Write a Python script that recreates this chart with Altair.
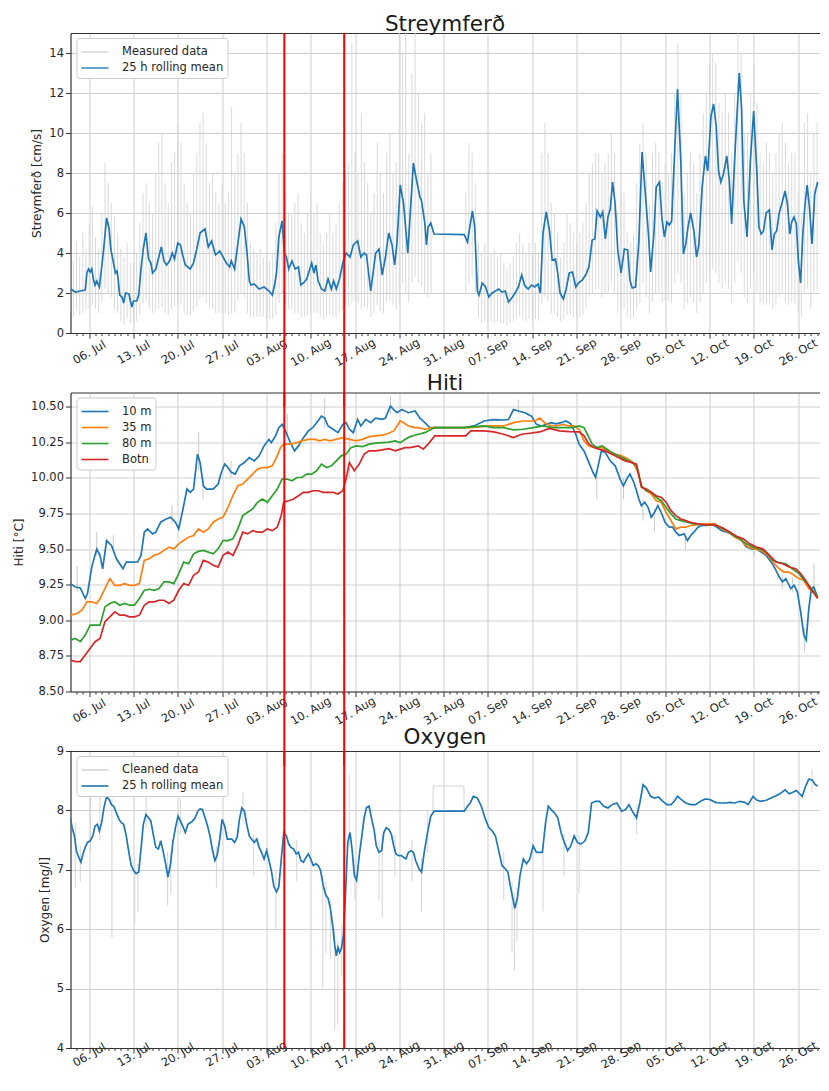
import altair as alt
import pandas as pd

BASE = pd.Timestamp("2020-07-03 00:00:00")


def when(days):
    return [BASE + pd.Timedelta(days=float(d)) for d in days]


# ---------------- Streymferð (current speed, cm/s) ----------------
SPEED_T = [0.05, 0.82, 1.60, 2.38, 2.64, 2.90, 3.16, 3.41, 3.67, 3.93,
           4.19, 4.61, 5.23, 5.75, 6.16, 6.42, 6.78, 7.15, 7.41, 7.61,
           7.82, 8.18, 8.44, 8.75, 9.27, 9.74, 10.00, 10.52, 10.83, 11.19,
           11.55, 11.97, 12.38, 12.75, 13.01, 13.52, 14.40, 14.82, 15.23, 15.70,
           16.12, 16.48, 17.00, 17.41, 17.77, 18.19, 18.97, 19.49, 20.00, 20.52,
           20.88, 21.30, 21.82, 22.34, 22.96, 23.63, 24.67, 25.19, 25.45, 25.97,
           26.38, 27.00, 27.52, 27.94, 28.30, 28.56, 29.08, 29.85, 30.63, 31.41,
           31.93, 32.29, 32.60, 32.96, 33.48, 33.85, 34.16, 34.52, 35.04, 35.56,
           36.07, 36.44, 36.85, 37.37, 38.15, 38.51, 38.82, 39.18, 39.70, 40.22,
           40.74, 41.26, 41.62, 42.04, 42.55, 43.07, 43.59, 44.21, 44.73, 45.41,
           45.92, 46.44, 46.81, 47.48, 48.26, 48.78, 49.29, 49.81, 50.33, 50.85,
           51.26, 51.63, 52.14, 52.66, 53.34, 54.22, 54.74, 55.26, 55.51, 56.03,
           56.29, 56.55, 56.97, 57.48, 62.25, 62.77, 63.03, 63.55, 63.91, 64.33,
           64.59, 65.10, 65.62, 66.14, 66.66, 67.18, 67.70, 68.21, 68.73, 69.25,
           69.77, 70.29, 70.81, 71.33, 71.84, 72.36, 72.88, 73.40, 73.92, 74.28,
           74.70, 75.21, 75.73, 76.15, 76.67, 77.03, 77.39, 77.91, 78.32, 78.84,
           79.36, 79.88, 80.29, 80.92, 81.43, 81.95, 82.47, 82.89, 83.25, 83.77,
           84.13, 84.55, 84.96, 85.32, 85.69, 86.10, 86.51, 87.03, 87.55, 88.07,
           88.43, 88.80, 89.31, 89.83, 90.35, 90.87, 91.39, 91.70, 92.22, 92.58,
           93.10, 93.46, 93.88, 94.29, 94.65, 95.02, 95.43, 95.95, 96.47, 96.88,
           97.25, 97.61, 98.02, 98.54, 98.96, 99.32, 99.84, 100.36, 100.72, 101.24,
           101.65, 102.07, 102.43, 102.79, 103.21, 103.73, 104.14, 104.50, 105.02, 105.70,
           106.06, 106.42, 106.94, 107.46, 107.98, 108.50, 108.81, 109.17, 109.53, 109.95,
           110.46, 110.88, 111.24, 111.61, 112.02, 112.54, 112.95, 113.32, 113.68, 113.99,
           114.35, 114.72, 115.03, 115.39, 115.75, 116.06, 116.43, 116.79, 117.20, 117.62,
           118.09]
SPEED_MEAN = [2.2, 2.05, 2.1, 2.15, 3.0, 3.2, 3.05, 3.2, 2.7, 2.4,
              2.6, 2.3, 4.0, 5.75, 5.2, 4.2, 3.6, 3.0, 3.1, 2.6,
              1.9, 1.8, 1.5, 2.0, 1.95, 1.3, 1.6, 1.6, 1.9, 3.2,
              4.2, 5.0, 3.7, 3.5, 3.0, 3.2, 4.3, 3.6, 3.4, 3.6,
              4.0, 3.7, 4.5, 4.4, 3.9, 3.4, 3.2, 3.5, 4.2, 5.0,
              5.1, 5.2, 4.3, 4.6, 3.9, 4.1, 3.5, 3.3, 3.6, 3.2,
              4.2, 5.7, 5.3, 4.0, 2.6, 2.4, 2.45, 2.2, 2.3, 2.1,
              1.9, 2.4, 3.0, 4.8, 5.6, 4.0, 3.8, 3.2, 3.6, 3.2,
              3.3, 2.4, 2.5, 2.7, 3.5, 3.0, 3.4, 2.6, 2.2, 2.1,
              2.7, 2.2, 2.6, 2.2, 2.7, 3.5, 4.0, 3.8, 4.4, 4.6,
              3.8, 4.0, 3.9, 2.1, 4.0, 4.2, 2.9, 3.8, 5.0, 4.4,
              3.4, 4.5, 7.4, 6.5, 4.0, 8.5, 7.6, 6.8, 6.6, 5.5,
              4.4, 5.3, 5.5, 4.95, 4.92, 4.55, 5.1, 6.1, 5.3, 2.1,
              1.9, 2.5, 2.3, 1.8, 2.0, 2.1, 2.2, 2.05, 2.1, 1.55,
              1.75, 2.0, 2.3, 2.9, 2.35, 2.2, 2.4, 2.3, 2.45, 2.0,
              5.0, 6.05, 5.1, 3.65, 3.7, 3.0, 2.0, 1.7, 2.15, 3.0,
              3.05, 2.3, 2.5, 2.65, 2.9, 3.3, 4.65, 4.7, 6.1, 5.8,
              6.05, 4.7, 5.8, 6.2, 7.55, 6.45, 4.15, 3.0, 4.2, 4.15,
              2.65, 2.25, 2.3, 4.5, 9.05, 6.95, 4.8, 3.05, 4.95, 7.3,
              7.55, 5.8, 4.8, 5.55, 5.4, 5.6, 8.6, 12.2, 8.6, 3.95,
              4.45, 5.3, 6.0, 5.1, 3.8, 4.4, 7.3, 8.85, 8.1, 10.85,
              11.45, 10.3, 8.1, 7.55, 7.95, 8.85, 7.6, 5.45, 8.95, 13.0,
              11.3, 6.6, 4.8, 8.6, 11.1, 7.95, 5.3, 4.95, 5.1, 6.0,
              6.15, 4.15, 4.95, 5.1, 6.0, 6.6, 7.1, 6.45, 4.95, 5.55,
              5.8, 5.45, 3.65, 2.5, 4.95, 6.3, 7.4, 6.3, 4.45, 6.95,
              7.55]

# measured data: range of the raw record in each half-day (nan = no data)
NAN = float("nan")
MEASURED_STEP_DAYS = 0.5
MEASURED_HIGH = [4.0, 3.6, 4.6, 3.8, 5.0, 4.2, 5.5, 6.3, 4.8, 4.2,
                 6.0, 8.5, 7.5, 6.5, 5.8, 5.0, 4.2, 3.8, 4.5, 3.5,
                 3.5, 4.0, 5.5, 7.0, 7.5, 6.5, 6.0, 8.0, 9.5, 10.0,
                 7.5, 6.5, 8.5, 9.0, 10.5, 9.5, 7.5, 6.5, 6.0, 8.0,
                 9.0, 10.5, 11.0, 9.5, 7.5, 8.0, 7.0, 6.5, 7.5, 6.5,
                 7.0, 11.3, 8.0, 9.0, 10.5, 9.0, 6.5, 4.5, 4.2, 4.0,
                 4.2, 3.8, 4.0, 3.6, 4.0, 5.5, 8.0, 9.0, 7.0, 6.0,
                 6.0, 6.5, 7.0, 5.5, 5.0, 6.0, 7.0, 6.0, 6.5, 5.0,
                 4.5, 5.0, 6.0, 5.0, 5.5, 6.5, 7.5, 8.0, 8.5, 14.5,
                 9.0, 8.0, 11.0, 8.5, 7.5, 6.0, 7.0, 9.5, 8.0, 7.0,
                 9.0, 10.0, 8.0, 8.5, 15.0, 14.0, 15.0, 9.0, 13.0, 15.0,
                 12.0, 10.5, 11.0, 8.0, 9.0, NAN, NAN, NAN, NAN, NAN,
                 NAN, NAN, NAN, NAN, NAN, 7.0, 9.5, 9.0, 7.5, 4.5,
                 4.0, 4.5, 3.8, 4.0, 4.2, 3.8, 4.0, 3.5, 3.2, 3.5,
                 3.8, 4.5, 5.0, 4.5, 4.0, 4.5, 4.0, 4.5, 4.0, 9.0,
                 10.5, 9.0, 6.5, 6.0, 5.0, 3.8, 4.5, 6.0, 5.5, 5.0,
                 4.5, 5.0, 5.5, 6.5, 8.0, 8.5, 9.0, 9.0, 8.0, 8.5,
                 9.0, 10.0, 9.0, 6.0, 7.0, 7.0, 5.0, 4.5, 5.0, 7.5,
                 9.5, 10.5, 9.0, 6.5, 9.0, 9.5, 9.0, 7.5, 8.5, 8.0,
                 9.0, 12.0, 14.5, 12.0, 7.0, 8.0, 9.0, 8.5, 7.0, 9.0,
                 11.0, 12.0, 13.5, 14.0, 13.5, 11.5, 11.0, 12.0, 11.0, 9.0,
                 12.0, 15.0, 14.0, 10.0, 10.0, 12.0, 13.5, 11.5, 9.0, 8.5,
                 9.5, 9.0, 8.0, 9.0, 10.0, 10.5, 9.5, 8.5, 9.0, 9.0,
                 7.0, 6.0, 10.5, 11.0, 8.0, 10.0, 10.5]
MEASURED_LOW = [1.0, 0.8, 1.1, 0.9, 1.0, 1.1, 1.2, 1.4, 1.2, 1.0,
                1.5, 2.2, 2.0, 1.8, 1.2, 1.0, 0.6, 0.4, 0.7, 0.5,
                0.5, 0.6, 0.9, 1.5, 1.6, 1.2, 1.0, 1.1, 1.2, 1.3,
                1.0, 0.9, 1.2, 1.3, 1.5, 1.4, 1.0, 0.9, 0.9, 1.1,
                1.3, 1.7, 1.8, 1.5, 1.2, 1.2, 1.0, 1.0, 1.0, 1.0,
                0.9, 1.0, 1.0, 1.6, 2.0, 1.8, 1.0, 0.8, 0.8, 0.8,
                0.8, 0.8, 0.7, 0.7, 0.7, 0.9, 1.5, 2.0, 1.4, 1.2,
                1.2, 1.0, 1.0, 0.8, 0.8, 0.9, 1.0, 1.0, 1.0, 0.8,
                0.7, 0.8, 0.9, 0.8, 0.8, 1.0, 1.2, 1.4, 1.3, 1.5,
                1.6, 1.5, 1.2, 1.3, 1.2, 0.8, 1.0, 1.4, 1.1, 1.0,
                1.5, 1.6, 1.4, 1.2, 1.5, 2.5, 2.0, 1.5, 2.5, 2.8,
                2.5, 2.3, 2.0, 1.8, 2.0, NAN, NAN, NAN, NAN, NAN,
                NAN, NAN, NAN, NAN, NAN, 2.0, 2.5, 2.8, 2.0, 0.8,
                0.5, 0.6, 0.5, 0.6, 0.5, 0.6, 0.5, 0.5, 0.4, 0.5,
                0.6, 0.7, 0.8, 0.7, 0.6, 0.7, 0.6, 0.7, 0.6, 1.5,
                1.8, 1.6, 1.0, 1.0, 0.8, 0.6, 0.7, 0.9, 0.9, 0.8,
                0.8, 0.8, 0.9, 1.2, 1.8, 2.0, 2.2, 2.2, 1.8, 2.0,
                2.0, 2.5, 2.0, 1.0, 1.2, 1.2, 0.8, 0.7, 0.8, 1.2,
                1.5, 2.5, 1.8, 1.0, 1.6, 2.0, 2.0, 1.5, 1.6, 1.6,
                1.5, 2.5, 3.0, 2.5, 1.2, 1.5, 1.8, 1.5, 1.0, 1.5,
                2.0, 2.5, 3.0, 3.2, 3.0, 2.5, 2.2, 2.5, 2.2, 1.5,
                2.5, 3.5, 3.0, 1.8, 1.5, 2.2, 3.0, 2.0, 1.5, 1.4,
                1.5, 1.5, 1.2, 1.4, 1.8, 2.0, 1.6, 1.4, 1.5, 1.5,
                1.0, 0.8, 2.0, 2.2, 1.2, 2.0, 2.2]

# ---------------- Hiti (temperature, °C) ----------------
T10_T = [0.05, 0.82, 1.60, 2.38, 2.74, 3.41, 4.19, 4.71, 5.13, 5.75,
         6.53, 7.30, 8.34, 8.86, 9.64, 10.67, 11.19, 11.71, 12.23, 13.01,
         13.52, 14.30, 15.08, 15.86, 16.63, 17.15, 17.93, 18.45, 18.97, 19.49,
         20.11, 20.52, 21.04, 21.56, 22.60, 23.37, 23.89, 24.41, 24.93, 25.45,
         26.07, 26.74, 27.52, 28.30, 29.08, 29.85, 30.63, 31.41, 31.77, 32.45,
         32.96, 33.48, 34.00, 34.78, 35.45, 36.07, 36.85, 37.63, 38.30, 38.93,
         39.70, 40.22, 40.74, 41.52, 42.30, 43.07, 43.59, 44.11, 44.73, 45.41,
         45.92, 46.70, 47.48, 48.26, 49.29, 49.81, 50.59, 51.11, 51.63, 52.40,
         53.44, 54.48,
         55.26, 56.03, 56.81, 57.59, 62.25, 63.81, 65.36, 66.92, 68.47, 69.25,
         70.03, 70.81, 71.84, 72.88, 73.66, 74.44, 75.21, 75.99, 76.77, 77.55,
         78.32, 79.10, 79.88, 80.40, 81.18, 81.95, 82.58, 82.99, 83.41, 83.92,
         84.55, 85.32, 86.10, 86.88, 87.40, 87.92, 88.43, 88.95, 89.47, 89.83,
         90.25, 90.77, 91.29, 91.80, 92.32, 92.84, 93.36, 93.98, 94.66, 95.17,
         95.69, 96.21, 96.99, 97.51, 98.03, 98.54, 99.17, 99.84, 100.62, 101.40,
         102.17, 102.95, 103.73, 104.51, 105.28, 106.06, 106.84, 107.62, 108.40, 109.17,
         109.95, 110.73, 111.25, 112.02, 112.54, 113.06, 113.84, 114.36, 114.88, 115.40,
         115.91, 116.28, 116.69, 117.11, 117.47, 118.09]
T10_V = [9.258, 9.234, 9.227, 9.153, 9.19, 9.374, 9.50, 9.456, 9.362, 9.56,
         9.526, 9.432, 9.362, 9.409, 9.409, 9.41, 9.456, 9.619, 9.642, 9.607,
         9.62, 9.689, 9.71, 9.724, 9.689, 9.642, 9.805, 9.922, 9.899, 9.922,
         10.167, 10.108, 9.945, 9.922, 9.922, 9.957, 10.04, 10.097, 10.073, 10.04,
         10.027, 10.085, 10.108, 10.143, 10.12, 10.155, 10.225, 10.271, 10.248, 10.295,
         10.353, 10.376, 10.33, 10.248, 10.19, 10.225, 10.283, 10.33, 10.353, 10.388,
         10.434, 10.42, 10.365, 10.342, 10.318, 10.376, 10.388, 10.342, 10.318, 10.411,
         10.365, 10.411, 10.388, 10.42, 10.411, 10.42, 10.505, 10.48, 10.458, 10.48,
         10.458, 10.47,
         10.42, 10.388, 10.353, 10.353, 10.353, 10.365, 10.4, 10.41, 10.407, 10.41,
         10.48, 10.47, 10.458, 10.434, 10.376, 10.365, 10.376, 10.388, 10.38, 10.388,
         10.4, 10.38, 10.307, 10.237, 10.19, 10.108, 10.04, 10.004, 10.085, 10.19,
         10.178, 10.12, 10.085, 9.992, 9.945, 9.992, 10.027, 9.98, 9.91, 9.852,
         9.805, 9.829, 9.794, 9.724, 9.759, 9.805, 9.759, 9.689, 9.654, 9.654,
         9.619, 9.596, 9.607, 9.56, 9.596, 9.619, 9.654, 9.666, 9.666, 9.677,
         9.654, 9.63, 9.619, 9.607, 9.584, 9.56, 9.514, 9.502, 9.502, 9.479,
         9.456, 9.409, 9.374, 9.304, 9.27, 9.293, 9.223, 9.246, 9.2, 9.06,
         8.896, 8.861, 9.083, 9.223, 9.234, 9.164]

T35_T = [0.05, 1.08, 1.86, 2.64, 3.41, 4.19, 4.71, 5.49, 6.27, 7.04,
         7.82, 8.60, 9.38, 10.15, 10.93, 11.71, 12.49, 13.26, 14.04, 14.82,
         15.60, 16.37, 17.15, 17.93, 18.71, 19.49, 20.26, 21.04, 21.82, 22.60,
         23.37, 24.15, 24.93, 25.71, 26.48, 27.26, 28.04, 28.82, 29.59, 30.37,
         31.15, 31.93, 32.71, 33.22, 33.74, 34.78, 35.82, 36.59, 37.63, 38.67,
         39.44, 40.22, 41.00, 42.04, 43.07, 44.11, 45.15, 46.18, 47.22, 48.26,
         49.29, 50.33, 51.11, 51.63, 52.15, 52.66, 53.44, 54.48,
         55.00, 56.03, 57.07, 63.29, 66.40, 68.47, 70.03, 71.59, 73.40, 74.18,
         74.96, 75.73, 76.77, 77.81, 78.84, 79.62, 80.40, 81.18, 81.95, 82.99,
         84.03, 84.81, 86.10, 87.14, 88.18, 88.95, 89.73, 90.35, 91.03, 91.80,
         92.58, 93.36, 94.14, 94.92, 95.69, 96.47, 97.25, 98.03, 99.06, 99.84,
         100.88, 101.91, 102.95, 103.99, 105.03, 106.06, 107.10, 108.14, 109.17, 110.21,
         111.25, 112.02, 112.80, 113.58, 114.36, 115.14, 115.91, 116.69, 117.47, 118.09]
T35_V = [9.036, 9.048, 9.071, 9.13, 9.13, 9.118, 9.153, 9.223, 9.293, 9.246,
         9.246, 9.258, 9.246, 9.246, 9.258, 9.421, 9.432, 9.456, 9.467, 9.491,
         9.514, 9.502, 9.537, 9.56, 9.584, 9.596, 9.642, 9.619, 9.642, 9.689,
         9.712, 9.724, 9.794, 9.875, 9.945, 9.957, 9.992, 10.027, 10.062, 10.073,
         10.073, 10.085, 10.155, 10.213, 10.237, 10.237, 10.248, 10.26, 10.271, 10.271,
         10.26, 10.271, 10.26, 10.271, 10.283, 10.271, 10.26, 10.271, 10.29, 10.295,
         10.3, 10.314, 10.33, 10.365, 10.4, 10.388, 10.365, 10.353,
         10.353, 10.342, 10.353, 10.353, 10.365, 10.365, 10.388, 10.4, 10.4, 10.42,
         10.388, 10.37, 10.365, 10.376, 10.365, 10.365, 10.342, 10.26, 10.225, 10.213,
         10.213, 10.19, 10.167, 10.155, 10.132, 10.108, 10.038, 9.934, 9.91, 9.887,
         9.84, 9.829, 9.759, 9.7, 9.642, 9.654, 9.654, 9.666, 9.672, 9.677,
         9.677, 9.677, 9.642, 9.619, 9.584, 9.56, 9.514, 9.502, 9.491, 9.456,
         9.397, 9.362, 9.339, 9.339, 9.316, 9.293, 9.281, 9.223, 9.2, 9.164]

T80_T = [0.05, 0.82, 1.60, 2.38, 3.16, 3.93, 4.71, 5.49, 6.27, 7.04,
         7.82, 8.60, 9.38, 10.15, 10.93, 11.71, 12.49, 13.26, 14.04, 14.82,
         15.60, 16.37, 17.15, 17.93, 18.71, 19.49, 20.26, 21.04, 21.82, 22.60,
         23.37, 24.15, 24.93, 25.71, 26.48, 27.26, 28.04, 28.82, 29.59, 30.37,
         31.15, 31.93, 32.71, 33.48, 34.26, 35.04, 35.82, 36.59, 37.37, 38.15,
         38.93, 39.70, 40.48, 41.26, 42.04, 42.81, 43.59, 44.37, 45.15, 46.18,
         47.22, 48.26, 49.29, 50.33, 51.37, 52.15, 52.92, 53.70, 54.48,
         55.00, 56.03, 57.07, 57.59, 62.25, 65.36, 66.92, 68.47, 70.03, 71.59,
         73.14, 74.70, 76.25, 77.81, 79.36, 80.40, 81.18, 81.69, 82.47, 83.25,
         84.03, 84.81, 85.58, 86.62, 87.66, 88.69, 89.47, 90.25, 91.03, 91.80,
         92.58, 93.36, 94.14, 94.92, 95.69, 96.47, 97.51, 98.54, 99.58, 100.62,
         101.66, 102.69, 103.73, 104.77, 105.80, 106.84, 107.88, 108.91, 109.95, 110.99,
         112.02, 113.06, 114.10, 115.14, 115.91, 116.69, 117.47, 118.09]
T80_V = [8.861, 8.873, 8.85, 8.896, 8.966, 8.966, 8.966, 9.094, 9.118, 9.13,
         9.106, 9.118, 9.106, 9.106, 9.153, 9.211, 9.218, 9.211, 9.223, 9.27,
         9.27, 9.258, 9.328, 9.409, 9.397, 9.467, 9.484, 9.491, 9.479, 9.467,
         9.502, 9.56, 9.56, 9.572, 9.642, 9.735, 9.759, 9.782, 9.829, 9.852,
         9.829, 9.875, 9.922, 9.992, 9.992, 9.98, 10.003, 10.003, 10.027, 10.027,
         10.05, 10.097, 10.073, 10.085, 10.12, 10.155, 10.167, 10.213, 10.225, 10.22,
         10.237, 10.245, 10.248, 10.252, 10.26, 10.248, 10.271, 10.29, 10.3,
         10.307, 10.318, 10.342, 10.353, 10.353, 10.365, 10.353, 10.353, 10.337, 10.342,
         10.353, 10.365, 10.353, 10.353, 10.353, 10.365, 10.353, 10.307, 10.237, 10.213,
         10.225, 10.202, 10.178, 10.155, 10.132, 10.108, 10.085, 9.945, 9.91, 9.899,
         9.864, 9.84, 9.794, 9.747, 9.712, 9.7, 9.689, 9.677, 9.672, 9.67,
         9.67, 9.654, 9.63, 9.596, 9.572, 9.537, 9.514, 9.502, 9.479, 9.421,
         9.404, 9.397, 9.362, 9.328, 9.281, 9.246, 9.2, 9.164]

TBOT_T = [0.05, 0.82, 1.60, 2.38, 3.16, 3.93, 4.71, 5.49, 6.27, 7.04,
          7.82, 8.60, 9.38, 10.15, 10.93, 11.71, 12.49, 13.26, 14.04, 14.82,
          15.60, 16.37, 17.15, 17.93, 18.71, 19.49, 20.26, 21.04, 21.82, 22.60,
          23.37, 24.15, 24.93, 25.71, 26.48, 27.26, 28.04, 28.82, 29.59, 30.37,
          31.15, 31.93, 32.71, 33.33, 33.74, 34.52, 35.30, 36.07, 36.85, 37.63,
          38.41, 39.19, 39.96, 40.74, 41.52, 42.30, 43.07, 43.59, 44.11, 44.89,
          45.67, 46.44, 47.22, 48.26, 49.29, 50.33, 51.37, 52.15, 52.92, 53.70,
          54.48,
          55.00, 55.77, 56.55, 57.59, 62.51, 63.29, 65.36, 66.92, 68.47, 70.03,
          71.33, 72.62, 74.18, 75.73, 77.29, 78.84, 80.40, 81.18, 81.95, 82.73,
          83.51, 84.55, 85.58, 86.62, 87.66, 88.69, 89.47, 90.25, 91.03, 91.80,
          92.58, 93.36, 94.14, 94.92, 95.69, 96.47, 97.25, 98.03, 99.06, 100.10,
          101.14, 102.17, 103.21, 104.25, 105.28, 106.32, 107.36, 108.40, 109.43, 110.47,
          111.51, 112.54, 113.58, 114.62, 115.40, 116.17, 116.95, 117.73, 118.09]
TBOT_V = [8.721, 8.71, 8.71, 8.756, 8.803, 8.85, 8.873, 8.99, 9.024, 9.059,
          9.036, 9.036, 9.024, 9.024, 9.036, 9.106, 9.13, 9.13, 9.141, 9.141,
          9.118, 9.141, 9.211, 9.258, 9.246, 9.316, 9.339, 9.421, 9.409, 9.386,
          9.374, 9.456, 9.479, 9.456, 9.526, 9.619, 9.607, 9.63, 9.619, 9.619,
          9.642, 9.63, 9.654, 9.735, 9.829, 9.84, 9.852, 9.875, 9.899, 9.899,
          9.91, 9.91, 9.899, 9.899, 9.899, 9.887, 9.91, 9.992, 10.108, 10.05,
          10.097, 10.167, 10.19, 10.19, 10.197, 10.206, 10.19, 10.202, 10.213, 10.213,
          10.22,
          10.225, 10.202, 10.237, 10.295, 10.295, 10.33, 10.33, 10.323, 10.307, 10.283,
          10.307, 10.314, 10.323, 10.348, 10.33, 10.325, 10.323, 10.295, 10.237, 10.213,
          10.202, 10.19, 10.167, 10.143, 10.12, 10.108, 10.097, 9.934, 9.922, 9.899,
          9.875, 9.864, 9.829, 9.77, 9.735, 9.712, 9.7, 9.689, 9.677, 9.672,
          9.67, 9.666, 9.647, 9.619, 9.591, 9.572, 9.537, 9.514, 9.502, 9.456,
          9.409, 9.397, 9.374, 9.362, 9.328, 9.281, 9.223, 9.176, 9.153]

# raw temperature excursions (mostly 10 m sensor)
TEMP_SPIKE_T = [1.1, 4.2, 6.8, 16.1, 20.3, 21.0, 25.4, 34.3, 40.2, 44.1, 50.6,
                70.8, 83.2, 87.4, 90.5, 92.3, 97.2, 108.0, 112.5, 114.1, 116.0, 117.5]
TEMP_SPIKE_LOW = [9.2, 9.45, 9.5, 9.68, 10.05, 9.85, 10.0, 10.3, 10.35, 10.0, 10.45,
                  10.45, 9.85, 9.85, 9.7, 9.62, 9.5, 9.45, 9.22, 9.2, 8.78, 9.2]
TEMP_SPIKE_HIGH = [9.38, 9.62, 9.6, 9.81, 10.32, 10.0, 10.12, 10.45, 10.56, 10.3, 10.58,
                   10.55, 10.05, 10.0, 9.85, 9.78, 9.6, 9.55, 9.32, 9.3, 8.95, 9.4]

# ---------------- Oxygen (mg/l) ----------------
OXY_T = [0.05, 0.30, 0.67, 0.98, 1.34, 1.70, 2.02, 2.38, 2.74, 3.16,
         3.57, 3.93, 4.30, 4.61, 4.97, 5.33, 5.75, 6.16, 6.53, 6.89,
         7.30, 7.72, 8.08, 8.44, 8.86, 9.27, 9.64, 10.00, 10.41, 10.83,
         11.19, 11.55, 11.97, 12.38, 12.75, 13.11, 13.52, 13.94, 14.30, 14.66,
         15.08, 15.44, 15.86, 16.22, 16.63, 17.05, 17.41, 17.77, 18.19, 18.60,
         18.97, 19.33, 19.74, 20.16, 20.52, 20.89, 21.30, 21.71, 22.08, 22.44,
         22.86, 23.22, 23.63, 24.00, 24.41, 24.82, 25.19, 25.55, 25.97, 26.38,
         26.74, 27.11, 27.52, 27.94, 28.30, 28.66, 29.08, 29.49, 29.85, 30.22,
         30.63, 31.05, 31.41, 31.77, 32.19, 32.60, 32.96, 33.33, 33.74, 34.16,
         34.52, 34.88, 35.30, 35.71, 36.07, 36.44, 36.85, 37.27, 37.63, 37.99,
         38.41, 38.82, 39.19, 39.55, 39.96, 40.38, 40.74, 41.10, 41.52, 41.78,
         42.04, 42.30, 42.56, 42.87, 43.18, 43.49, 43.85, 44.21, 44.53, 44.89,
         45.25, 45.67, 46.08, 46.44, 46.81, 47.22, 47.64, 48.00, 48.36, 48.78,
         49.19, 49.55, 49.92, 50.33, 50.75, 51.11, 51.47, 51.89, 52.30, 52.66,
         53.03, 53.44, 53.86, 54.22,
         54.58, 55.10, 55.51, 55.93, 56.45, 56.97, 57.48, 62.25, 62.77, 63.19,
         63.70, 64.33, 64.95, 65.62, 66.14, 66.66, 67.18, 67.70, 68.21, 68.73,
         69.15, 69.51, 69.93, 70.24, 70.65, 71.07, 71.59, 72.10, 72.62, 73.14,
         73.66, 74.18, 74.59, 75.11, 75.53, 75.99, 76.51, 77.03, 77.55, 78.07,
         78.58, 79.10, 79.62, 80.14, 80.66, 81.33, 81.85, 82.37, 82.99, 83.61,
         84.29, 84.96, 85.58, 86.36, 87.14, 87.76, 88.28, 88.80, 89.47, 89.99,
         90.51, 91.03, 91.70, 92.32, 92.95, 93.62, 94.29, 94.92, 95.43, 95.95,
         96.57, 97.25, 98.03, 98.80, 99.58, 100.36, 101.14, 101.91, 102.69, 103.47,
         104.25, 105.03, 105.80, 106.58, 107.10, 107.88, 108.50, 109.17, 109.95, 110.73,
         111.51, 112.28, 112.96, 113.58, 114.10, 114.72, 115.14, 115.65, 116.17, 116.69,
         117.21, 117.73, 118.09]
OXY_MEAN = [7.876, 7.71, 7.571, 7.322, 7.212, 7.128, 7.267, 7.378, 7.461, 7.488,
            7.571, 7.738, 7.765, 7.654, 7.793, 8.042, 8.236, 8.18, 8.097, 8.07,
            7.959, 7.848, 7.793, 7.765, 7.571, 7.295, 7.073, 6.99, 6.935, 6.962,
            7.35, 7.765, 7.931, 7.876, 7.82, 7.599, 7.378, 7.35, 7.488, 7.322,
            7.101, 6.879, 7.101, 7.461, 7.71, 7.904, 7.82, 7.738, 7.627, 7.765,
            7.793, 7.82, 7.876, 7.987, 8.025, 8.014, 7.876, 7.738, 7.571, 7.35,
            7.156, 7.239, 7.516, 7.848, 7.738, 7.516, 7.516, 7.516, 7.461, 7.544,
            7.848, 8.042, 7.987, 7.738, 7.571, 7.516, 7.461, 7.516, 7.378, 7.295,
            7.184, 7.322, 7.156, 6.99, 6.713, 6.63, 6.713, 7.156, 7.627, 7.571,
            7.433, 7.378, 7.35, 7.267, 7.295, 7.156, 7.128, 7.212, 7.267, 7.184,
            7.073, 7.101, 7.073, 6.99, 6.741, 6.575, 6.519, 6.353, 6.021, 5.744,
            5.55, 5.689, 5.606, 5.689, 5.91, 6.575, 7.461, 7.627, 7.35, 6.907,
            6.824, 7.239, 7.571, 7.876, 8.042, 8.07, 7.848, 7.682, 7.405, 7.295,
            7.322, 7.627, 7.71, 7.682, 7.599, 7.405, 7.267, 7.239, 7.239, 7.212,
            7.184, 7.295, 7.322, 7.295,
            7.156, 7.018, 6.962, 7.295, 7.627, 7.904, 7.987, 7.987, 8.07, 8.125,
            8.236, 8.208, 8.07, 7.848, 7.71, 7.655, 7.571, 7.322, 7.073, 7.018,
            6.962, 6.741, 6.519, 6.353, 6.519, 6.907, 7.184, 7.101, 7.184, 7.405,
            7.295, 7.295, 7.295, 7.793, 8.07, 8.014, 7.959, 7.876, 7.627, 7.461,
            7.322, 7.405, 7.571, 7.461, 7.433, 7.488, 7.627, 8.125, 8.153, 8.153,
            8.07, 8.042, 8.097, 8.125, 7.987, 8.014, 8.097, 7.987, 7.876, 8.125,
            8.43, 8.375, 8.236, 8.208, 8.225, 8.153, 8.097, 8.097, 8.153, 8.236,
            8.18, 8.125, 8.097, 8.097, 8.153, 8.192, 8.18, 8.136, 8.125, 8.125,
            8.136, 8.125, 8.153, 8.136, 8.097, 8.236, 8.17, 8.153, 8.17, 8.208,
            8.247, 8.291, 8.347, 8.28, 8.302, 8.336, 8.291, 8.236, 8.402, 8.524,
            8.513, 8.43, 8.413]

# cleaned raw oxygen excursions
OXY_SPIKE_T = [0.8, 1.6, 3.2, 4.7, 6.6, 10.2, 10.7, 12.0, 15.4, 15.9, 17.4, 23.1, 27.3,
               29.0, 32.5, 35.8, 39.9, 40.4, 41.1, 41.8, 42.3, 42.9, 44.1, 45.0, 48.8,
               49.3, 51.3, 54.0, 55.5, 56.5, 68.5, 69.8, 70.2, 70.6, 74.7, 78.0, 80.4,
               89.5, 117.2]
OXY_SPIKE_LOW = [6.7, 6.8, 7.3, 7.5, 5.85, 6.1, 6.3, 7.7, 6.4, 6.6, 7.6, 6.7, 7.8,
                 6.9, 6.0, 6.8, 5.0, 5.6, 5.5, 4.3, 4.4, 5.2, 7.4, 6.5, 6.5,
                 6.2, 6.9, 6.8, 6.3, 7.3, 6.5, 5.6, 5.3, 5.8, 6.3, 6.9, 6.6,
                 7.6, 8.3]
OXY_SPIKE_HIGH = [7.8, 7.4, 8.3, 8.3, 8.2, 7.2, 7.1, 8.3, 7.3, 7.3, 8.2, 7.4, 8.3,
                  7.6, 7.0, 7.5, 6.9, 6.8, 6.5, 6.0, 5.8, 6.1, 8.6, 7.2, 7.5,
                  7.6, 7.6, 7.5, 7.2, 8.0, 7.3, 6.8, 6.6, 6.7, 7.4, 7.6, 7.6,
                  8.1, 8.7]
OXY_GAP_T = [57.3, 57.35, 62.2, 62.25]
OXY_GAP_V = [8.0, 8.41, 8.41, 8.0]

# red event markers
EVENT_DAYS = [33.83, 43.29]

# ---------------- tables ----------------
df_speed = pd.DataFrame({"time": when(SPEED_T), "v": SPEED_MEAN, "series": "25 h rolling mean"})
meas_days = [i * MEASURED_STEP_DAYS for i in range(len(MEASURED_HIGH))]
df_meas = pd.DataFrame({"time": when(meas_days), "lo": MEASURED_LOW, "v": MEASURED_HIGH,
                        "series": "Measured data"}).dropna()

df_temp = pd.concat([
    pd.DataFrame({"time": when(T10_T), "v": T10_V, "series": "10 m"}),
    pd.DataFrame({"time": when(T35_T), "v": T35_V, "series": "35 m"}),
    pd.DataFrame({"time": when(T80_T), "v": T80_V, "series": "80 m"}),
    pd.DataFrame({"time": when(TBOT_T), "v": TBOT_V, "series": "Botn"}),
], ignore_index=True)
df_temp_raw = pd.DataFrame({"time": when(TEMP_SPIKE_T), "lo": TEMP_SPIKE_LOW, "v": TEMP_SPIKE_HIGH})

df_oxy = pd.DataFrame({"time": when(OXY_T), "v": OXY_MEAN, "series": "25 h rolling mean"})
df_oxy_raw = pd.DataFrame({"time": when(OXY_SPIKE_T), "lo": OXY_SPIKE_LOW, "v": OXY_SPIKE_HIGH,
                           "series": "Cleaned data"})
df_oxy_gap = pd.DataFrame({"time": when(OXY_GAP_T), "v": OXY_GAP_V})
df_event = pd.DataFrame({"time": when(EVENT_DAYS)})

# ---------------- style ----------------
FONT = "DejaVu Sans"
INK = "#262626"
SPINE = "#333333"
W = 749
H1, H2, H3 = 300, 299, 297
GAP = 59.5
IS_MON = "day(datum.value) == 1"
X_DOMAIN = [alt.DateTime(year=2020, month=7, date=3, hours=1, minutes=12),
            alt.DateTime(year=2020, month=10, date=29, hours=9, minutes=7)]
LINE_SYMBOL = "M-1.5,0L1.5,0"


def x_bottom(label_pad):
    return alt.X("time:T", title=None, scale=alt.Scale(domain=X_DOMAIN),
                 axis=alt.Axis(orient="bottom", tickCount={"interval": "day", "step": 1},
                               labelExpr=f"{IS_MON} ? timeFormat(datum.value, '%d. %b') : ''",
                               labelAngle=330, labelAlign="center", labelBaseline="middle",
                               labelPadding=label_pad, labelOverlap=False, labelFlush=False,
                               labelBound=False,
                               tickSize={"condition": {"test": IS_MON, "value": 5}, "value": 2.5},
                               gridOpacity={"condition": {"test": IS_MON, "value": 1}, "value": 0},
                               grid=True))


def x_plain():
    return alt.X("time:T", title=None, scale=alt.Scale(domain=X_DOMAIN), axis=None)


def x_top():
    return alt.X("time:T", title=None, scale=alt.Scale(domain=X_DOMAIN),
                 axis=alt.Axis(orient="top", labels=False, ticks=False, grid=False, domain=True))


def y_enc(field, domain, ticks, title, fmt=None):
    ax = dict(values=ticks, title=title)
    if fmt:
        ax["format"] = fmt
    return alt.Y(f"{field}:Q", scale=alt.Scale(domain=domain, nice=False, zero=False),
                 axis=alt.Axis(**ax))


def legend():
    return alt.Legend(title=None, orient="none", legendX=6, legendY=5,
                      symbolType=LINE_SYMBOL, symbolSize=324, symbolStrokeWidth=1.6,
                      symbolOffset=4.5, symbolFillColor="transparent",
                      labelOffset=17, rowPadding=0, padding=4,
                      fillColor="white", strokeColor="#cccccc", cornerRadius=3,
                      labelFont=FONT, labelFontSize=11.5, labelColor=INK)


def events(length):
    return alt.Chart(df_event).mark_rule(color="#ff0000", strokeWidth=2).encode(
        x=x_top(), y=alt.value(0), y2=alt.value(length))


# Panel 1
Y1 = dict(domain=[0, 15], ticks=[0, 2, 4, 6, 8, 10, 12, 14], title="Streymferð [cm/s]")
c1 = alt.Scale(domain=["Measured data", "25 h rolling mean"], range=["#d4d4d4", "#1f77b4"])
p1 = alt.layer(
    alt.Chart(df_meas).mark_rule(strokeWidth=1, opacity=0.85, clip=True).encode(
        x=x_plain(), y=y_enc("lo", **Y1), y2="v:Q",
        color=alt.Color("series:N", scale=c1, legend=legend())),
    alt.Chart(df_speed).mark_line(strokeWidth=1.7, clip=True).encode(
        x=x_bottom(14.5), y=y_enc("v", **Y1),
        color=alt.Color("series:N", scale=c1, legend=legend())),
    events(H1 + GAP + 15),
).properties(width=W, height=H1, title="Streymferð")

# Panel 2
Y2 = dict(domain=[8.5, 10.6], ticks=[8.5, 8.75, 9.0, 9.25, 9.5, 9.75, 10.0, 10.25, 10.5],
          title="Hiti [°C]", fmt=".2f")
c2 = alt.Scale(domain=["10 m", "35 m", "80 m", "Botn"],
               range=["#1f77b4", "#ff7f0e", "#2ca02c", "#d62728"])
p2 = alt.layer(
    alt.Chart(df_temp_raw).mark_rule(strokeWidth=1, color="#c8c8c8", clip=True).encode(
        x=x_plain(), y=y_enc("lo", **Y2), y2="v:Q"),
    alt.Chart(df_temp).mark_line(strokeWidth=1.7, clip=True).encode(
        x=x_bottom(14.5), y=y_enc("v", **Y2),
        color=alt.Color("series:N", scale=c2, legend=legend(), sort=None)),
    events(H2 + GAP + 15),
).properties(width=W, height=H2, title="Hiti")

# Panel 3
Y3 = dict(domain=[4, 9], ticks=[4, 5, 6, 7, 8, 9], title="Oxygen [mg/l]")
c3 = alt.Scale(domain=["Cleaned data", "25 h rolling mean"], range=["#d4d4d4", "#1f77b4"])
p3 = alt.layer(
    alt.Chart(df_oxy_raw).mark_rule(strokeWidth=1, clip=True).encode(
        x=x_plain(), y=y_enc("lo", **Y3), y2="v:Q",
        color=alt.Color("series:N", scale=c3, legend=legend())),
    alt.Chart(df_oxy_gap).mark_line(strokeWidth=1, color="#d4d4d4", clip=True).encode(
        x=x_plain(), y=y_enc("v", **Y3)),
    alt.Chart(df_oxy).mark_line(strokeWidth=1.7, clip=True).encode(
        x=x_bottom(2), y=y_enc("v", **Y3),
        color=alt.Color("series:N", scale=c3, legend=legend())),
    events(H3),
).properties(width=W, height=H3, title="Oxygen")

chart = alt.vconcat(p1, p2, p3, spacing=GAP, bounds="flush").resolve_scale(
    color="independent"
).configure(
    font=FONT, padding={"left": 4.5, "top": 5, "right": 0, "bottom": 0}
).configure_view(stroke=None).configure_axis(
    labelFont=FONT, labelFontSize=11.5, labelColor=INK,
    titleFont=FONT, titleFontSize=12, titleFontWeight="normal", titleColor=INK,
    domainColor=SPINE, domainWidth=1.2, tickColor=SPINE, tickWidth=1,
    gridColor="#cfcfcf", gridWidth=1,
).configure_axisY(tickSize=5, labelPadding=2, titlePadding=5).configure_title(
    font=FONT, fontSize=21.5, fontWeight="normal", color="#1a1a1a", anchor="middle", offset=-3
)

chart.save("out.html", embed_options={"renderer": "svg", "actions": False})
